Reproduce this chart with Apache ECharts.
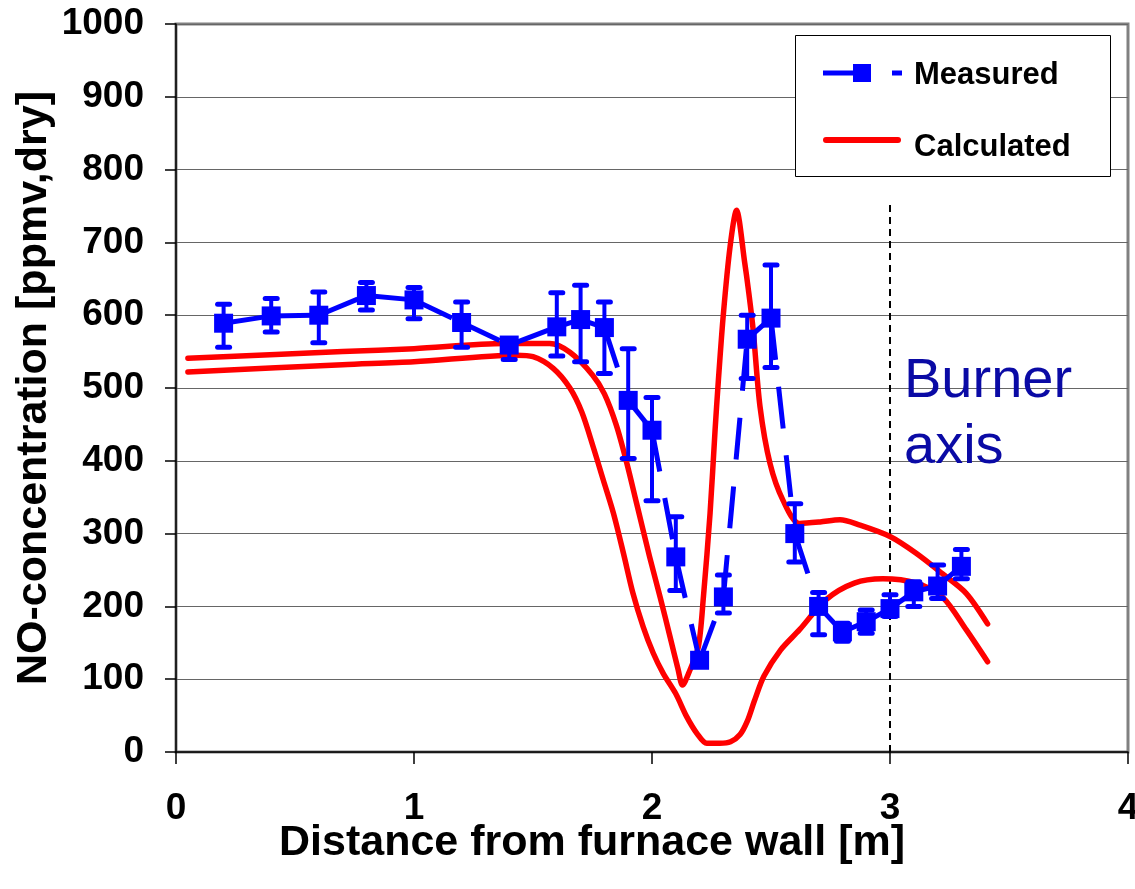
<!DOCTYPE html>
<html><head><meta charset="utf-8">
<script src="https://cdn.jsdelivr.net/npm/echarts@6/dist/echarts.min.js"></script>
<style>html,body{margin:0;padding:0;background:#fff}#c{width:1135px;height:889px}</style>
</head><body><div id="c"></div><script>
// Measured NO concentration (with error bar range)
const measuredX    = [0.2,0.4,0.6,0.8,1.0,1.2,1.4,1.6,1.7,1.8,1.9,2.0,2.1,2.2,2.3,2.4,2.5,2.6,2.7,2.8,2.9,3.0,3.1,3.2,3.3];
const measuredY    = [589,599,600,627,621,590,559,584,594,583,483,442,268,126,213,567,596,300,200,165,179,197,220,228,255];
const measuredLow  = [556,577,562,607,595,556,539,544,536,520,403,345,222,126,191,513,528,261,161,152,163,186,200,211,238];
const measuredHigh = [615,623,632,645,638,618,565,631,641,618,554,487,323,126,243,600,669,341,219,177,195,216,234,257,278];

// Calculated profiles
const calc1X = [0.05,0.7,1.0,1.38,1.57,1.655,1.75,1.80,1.85,1.894,1.935,1.99,2.034,2.076,2.11,2.128,2.16,2.195,2.216,2.244,2.265,2.279,2.30,2.328,2.355,2.39,2.405,2.425,2.454,2.496,2.55,2.62,2.706,2.79,2.87,3.0,3.11,3.22,3.32,3.41];
const calc1Y = [541,550,554,561,561,549,518,492,449,397,342,268,213,158,113,92,113,145,213,328,442,511,602,694,744,671,635,580,474,396,346,314,316,319,312,296,273,245,218,176];
const calc2X = [0.05,0.7,1.0,1.43,1.5,1.585,1.655,1.705,1.753,1.795,1.838,1.88,1.92,1.963,2.005,2.047,2.10,2.145,2.19,2.23,2.285,2.33,2.37,2.40,2.43,2.47,2.54,2.62,2.73,2.85,2.97,3.11,3.22,3.32,3.41];
const calc2Y = [522,532,536,545,543,527,500,467,419,374,328,273,218,172,136,108,80,49,25,12,12,14,24,42,70,104,140,168,209,232,238,232,213,168,124];

const burnerAxisX = 3.0;
const burnerAxisTop = 758;

const xTickMin = 0, xTickMax = 4, xTickStep = 1;
const yTickMin = 0, yTickMax = 1000, yTickStep = 100;

const BLUE = '#0000FF', RED = '#FF0000';
const FONT = '"Liberation Sans", Arial, Helvetica, sans-serif';

const zip = (xs, ys) => xs.map((x, i) => [x, ys[i]]);

const series = [];
// calculated curves
[[calc1X, calc1Y], [calc2X, calc2Y]].forEach(([xs, ys]) => {
  series.push({
    type: 'line', name: 'Calculated', data: zip(xs, ys),
    smooth: 0.3, symbol: 'none', silent: true, z: 2,
    lineStyle: { color: RED, width: 5.5, cap: 'round', join: 'round', opacity: 1 }
  });
});
// measured line: dash pattern restarts on every segment
for (let i = 0; i < measuredX.length - 1; i++) {
  series.push({
    type: 'line', data: [[measuredX[i], measuredY[i]], [measuredX[i+1], measuredY[i+1]]],
    symbol: 'none', silent: true, z: 3,
    lineStyle: { color: BLUE, width: 5, type: [42, 27], dashOffset: 0, opacity: 1 }
  });
}
// error bars
series.push({
  type: 'custom', z: 4, silent: true,
  data: measuredX.map((x, i) => [x, measuredLow[i], measuredHigh[i]]),
  renderItem: (params, api) => {
    const x = api.value(0), lo = api.value(1), hi = api.value(2);
    if (hi - lo < 1) return { type: 'group', children: [] };
    const a = api.coord([x, lo]), b = api.coord([x, hi]);
    const hw = 6;
    const st = { stroke: BLUE, lineWidth: 5, lineCap: 'round' };
    return { type: 'group', children: [
      { type: 'line', shape: { x1: a[0], y1: a[1], x2: b[0], y2: b[1] }, style: { stroke: BLUE, lineWidth: 4 } },
      { type: 'line', shape: { x1: a[0]-hw, y1: a[1], x2: a[0]+hw, y2: a[1] }, style: st },
      { type: 'line', shape: { x1: b[0]-hw, y1: b[1], x2: b[0]+hw, y2: b[1] }, style: st }
    ]};
  }
});
// markers
series.push({
  type: 'scatter', name: 'Measured', data: zip(measuredX, measuredY), z: 5, silent: true,
  symbol: 'rect', symbolSize: 19, itemStyle: { color: BLUE, opacity: 1 }
});
// burner axis
series.push({
  type: 'line', data: [[burnerAxisX, yTickMin], [burnerAxisX, burnerAxisTop]],
  symbol: 'none', silent: true, z: 1,
  lineStyle: { color: '#000', width: 2, type: [7, 5] }
});

const chart = echarts.init(document.getElementById('c'), null, { renderer: 'canvas' });
chart.setOption({
  animation: false,
  backgroundColor: '#fff',
  grid: { left: 176, right: 7, top: 24, bottom: 137, containLabel: false, outerBoundsMode: 'none',
          show: true, borderColor: '#808080', borderWidth: 3, backgroundColor: 'transparent' },
  xAxis: {
    type: 'value', min: xTickMin, max: xTickMax, interval: xTickStep,
    axisLine: { show: true, lineStyle: { color: '#000', width: 1.5 } },
    axisTick: { show: true, length: 12, lineStyle: { color: '#000', width: 1.5 } },
    axisLabel: { margin: 38, color: '#000', fontFamily: FONT, fontWeight: 'bold', fontSize: 37,
                 formatter: v => String(v) },
    splitLine: { show: false }
  },
  yAxis: {
    type: 'value', min: yTickMin, max: yTickMax, interval: yTickStep,
    axisLine: { show: true, lineStyle: { color: '#000', width: 1.5 } },
    axisTick: { show: true, length: 11, lineStyle: { color: '#000', width: 1.5 } },
    axisLabel: { margin: 32, color: '#000', fontFamily: FONT, fontWeight: 'bold', fontSize: 37,
                 formatter: v => String(v) },
    splitLine: { show: true, lineStyle: { color: '#666', width: 1 } }
  },
  graphic: [
    { type: 'text', z: 50, x: 34, y: 388, rotation: Math.PI / 2,
      style: { text: 'NO-concentration [ppmv,dry]', fill: '#000', font: 'bold 43px ' + FONT, align: 'center', verticalAlign: 'middle' } },
    { type: 'text', z: 50, x: 592, y: 843,
      style: { text: 'Distance from furnace wall [m]', fill: '#000', font: 'bold 43px ' + FONT, align: 'center', verticalAlign: 'middle' } },
    { type: 'text', z: 50, x: 904, y: 382,
      style: { text: 'Burner', fill: '#0A0AA5', font: '56px ' + FONT, align: 'left', verticalAlign: 'middle' } },
    { type: 'text', z: 50, x: 904, y: 448,
      style: { text: 'axis', fill: '#0A0AA5', font: '56px ' + FONT, align: 'left', verticalAlign: 'middle' } },
    { type: 'rect', z: 60, shape: { x: 795.5, y: 35.5, width: 315, height: 141 },
      style: { fill: '#fff', stroke: '#000', lineWidth: 1 } },
    { type: 'line', z: 61, shape: { x1: 823, y1: 73, x2: 902, y2: 73 },
      style: { stroke: BLUE, lineWidth: 5, lineDash: [42, 27] } },
    { type: 'rect', z: 62, shape: { x: 853, y: 64, width: 18, height: 18 }, style: { fill: BLUE } },
    { type: 'text', z: 62, x: 914, y: 75,
      style: { text: 'Measured', fill: '#000', font: 'bold 31px ' + FONT, align: 'left', verticalAlign: 'middle' } },
    { type: 'line', z: 61, shape: { x1: 826, y1: 140, x2: 898, y2: 140 },
      style: { stroke: RED, lineWidth: 6, lineCap: 'round' } },
    { type: 'text', z: 62, x: 914, y: 147,
      style: { text: 'Calculated', fill: '#000', font: 'bold 31px ' + FONT, align: 'left', verticalAlign: 'middle' } }
  ],
  series: series
});
</script></body></html>
